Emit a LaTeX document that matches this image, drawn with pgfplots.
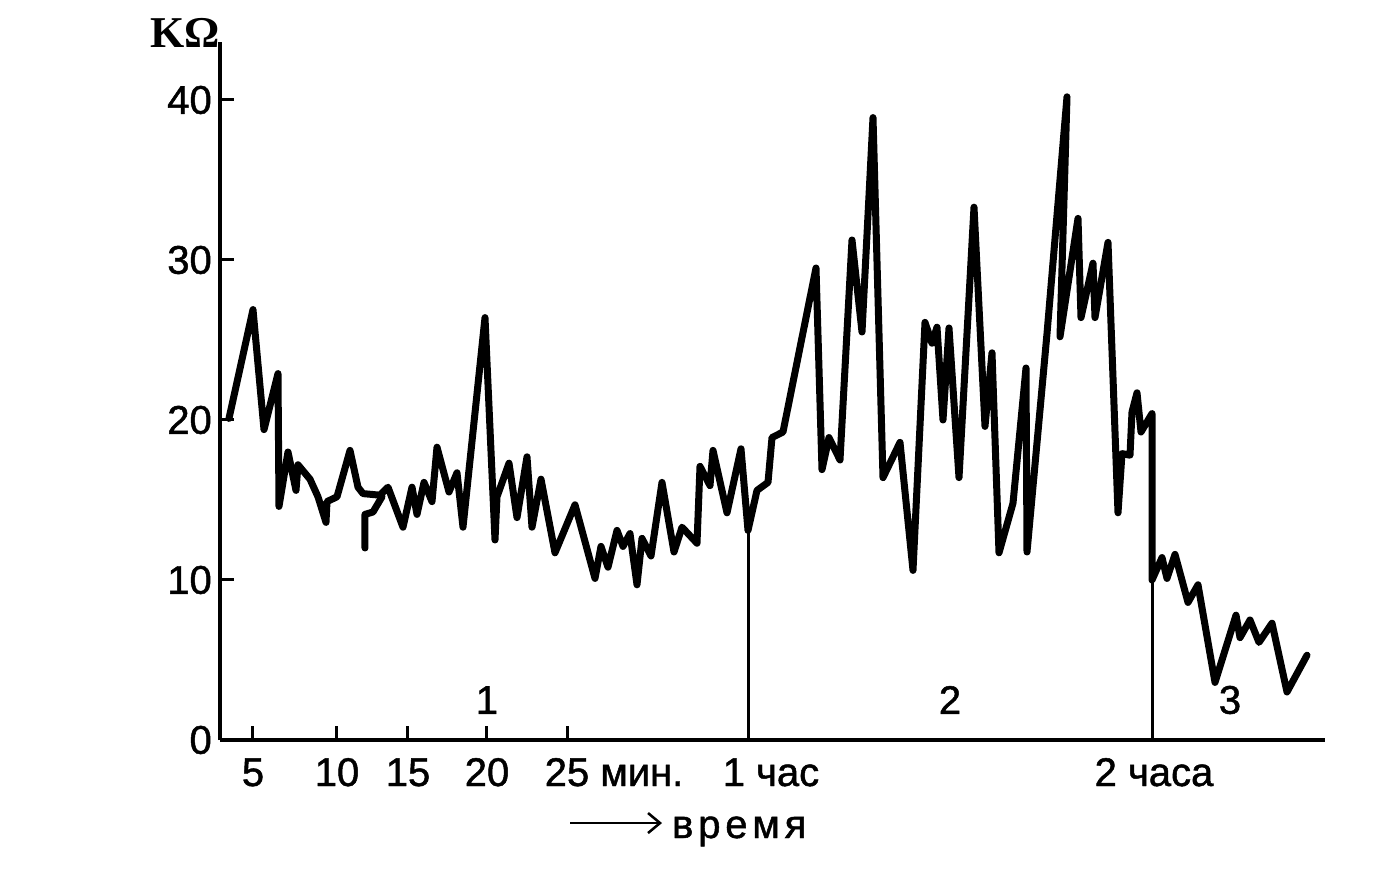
\documentclass[border=0pt]{standalone}
\usepackage{fontspec}
\setmainfont{Liberation Sans}[FakeBold=1.2]
\newfontfamily\kofont{Liberation Serif}
\usepackage{pgfplots}
\pgfplotsset{compat=1.18}
\usetikzlibrary{arrows.meta}
\newcommand{\lbl}{\fontsize{40}{44}\selectfont}
\begin{document}
\begin{tikzpicture}
\begin{axis}[
    x=1pt, y=16pt,
    xmin=220, xmax=1325,
    ymin=0, ymax=43.6,
    axis lines=left,
    axis line style={-, line width=3.2pt},
    clip=false,
    tick align=inside,
    major tick length=14pt,
    tick style={line width=3pt, black},
    xtick={253,337,408,487,567},
    xticklabels={5,10,15,20,25\rlap{ мин.}},
    extra x ticks={771,1154},
    extra x tick labels={1 час,2 часа},
    extra x tick style={major tick length=0pt},
    ytick={0,10,20,30,40},
    yticklabels={0,10,20,30,40},
    tick label style={font=\lbl, inner sep=0pt},
    xticklabel style={anchor=base, yshift=-46pt},
    yticklabel style={anchor=east, xshift=-8pt},
]
% main trace
\addplot[line width=7pt, line join=round, line cap=round] coordinates {
    (229,20.1) (253,26.9) (264,19.4) (278,22.9) (279,14.6) (288,18.0)
    (296,15.6) (298,17.2) (310,16.3) (318,15.2) (326,13.6) (327,14.9)
    (337,15.2) (350,18.1) (358,15.8) (363,15.4) (380,15.3) (388,15.8)
    (403,13.3) (412,15.8) (417,14.1) (424,16.1) (432,14.9) (437,18.3)
    (449,15.5) (457,16.7) (463,13.3) (485,26.4) (495,12.5) (497,15.2)
    (509,17.3) (517,13.9) (527,17.7) (532,13.3) (541,16.3) (555,11.7)
    (575,14.7) (595,10.1) (601,12.1) (608,10.8) (617,13.1) (623,12.1)
    (630,12.9) (637,9.7) (642,12.6) (651,11.5) (662,16.1) (674,11.75)
    (682,13.3) (697,12.3) (700,17.1) (710,15.9) (713,18.1) (727,14.2)
    (741,18.2) (748,13.1) (757,15.6) (768,16.1) (772,18.9) (783,19.25)
    (816,29.5) (822,16.9) (829,18.9) (840,17.5) (852,31.25) (862,25.5)
    (873,38.9) (883,16.4) (900,18.6) (913,10.6) (925,26.1) (932,24.8)
    (937,25.8) (943,20.0) (949,25.75) (959,16.4) (974,33.3) (985,19.6)
    (992,24.2) (999,11.7) (1013,14.8) (1026,23.25) (1027,11.75) (1047,25.4)
    (1067,40.2) (1060,25.2) (1078,32.6) (1081,26.4) (1093,29.8) (1095,26.4)
    (1108,31.1) (1118,14.2) (1122,17.9) (1130,17.8) (1132,20.5) (1137,21.7)
    (1141,19.25) (1152,20.4) (1152,10.0) (1162,11.4) (1167,10.1) (1175,11.6)
    (1188,8.6) (1198,9.7) (1215,3.6) (1236,7.8) (1240,6.4) (1250,7.5)
    (1259,6.1) (1272,7.3) (1287,3.0) (1307,5.3)
};
% short separate stroke near 13 min
\addplot[line width=7pt, line join=round, line cap=round] coordinates {
    (365,12.0) (365,14.1) (373,14.25) (382,15.2)
};
% markers for 1 and 2 hours
\addplot[line width=3pt] coordinates {(748,0) (748,13.1)};
\addplot[line width=3pt] coordinates {(1152,0) (1152,10.0)};

\node[font=\lbl] at (axis cs:487,2.5) {1};
\node[font=\lbl] at (axis cs:950,2.5) {2};
\node[font=\lbl] at (axis cs:1230,2.5) {3};
\node[font=\kofont\bfseries\fontsize{44}{46}\selectfont, anchor=base west, inner sep=0pt]
    at (axis cs:150,43.25) {KΩ};
\draw[line width=2.5pt, -{Straight Barb[length=12pt,width=20pt,line width=2.5pt]}]
    (axis cs:570,-5.19) -- (axis cs:662,-5.19);
\node[font=\lbl\addfontfeatures{LetterSpace=12}, anchor=base west, inner sep=0pt]
    at (axis cs:672,-6.125) {время};
% page frame of the reference
\path (axis cs:0,46.25) rectangle (axis cs:1387,-9.125);
\end{axis}
\end{tikzpicture}
\end{document}
